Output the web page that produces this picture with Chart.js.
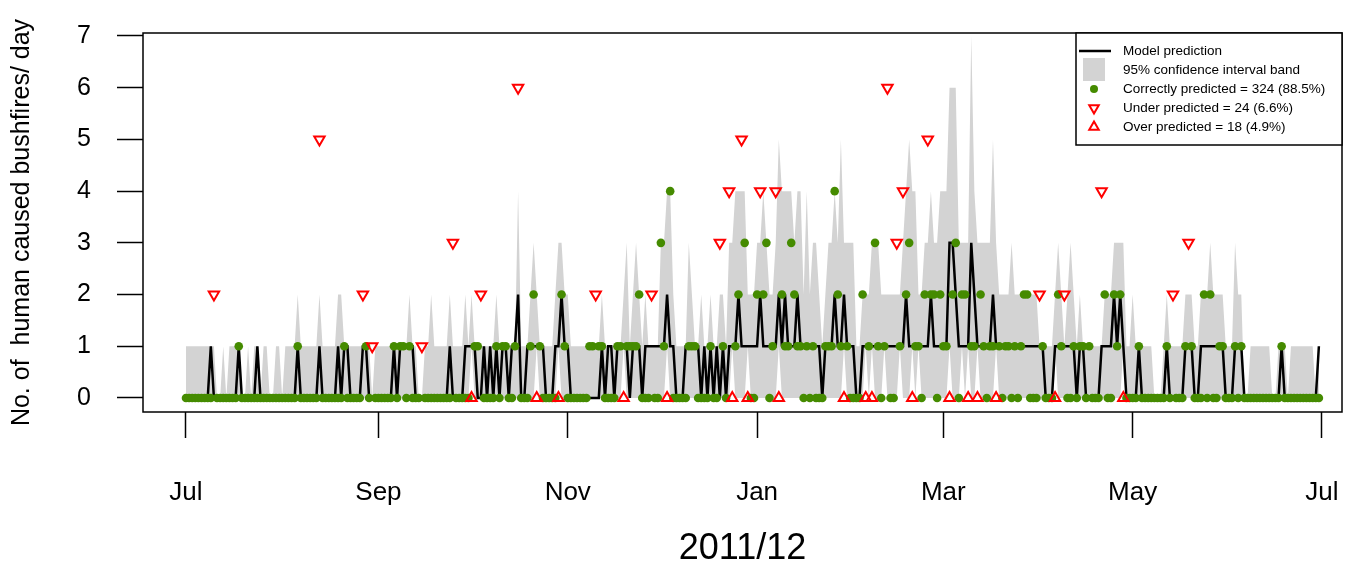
<!DOCTYPE html>
<html>
<head>
<meta charset="utf-8">
<script src="https://cdn.jsdelivr.net/npm/chart.js@4.4.1/dist/chart.umd.min.js"></script>
<style>
  html, body { margin: 0; padding: 0; background: #fff; }
  #wrap { width: 1358px; height: 563px; }
</style>
</head>
<body>
<div id="wrap"><canvas id="chart" width="1358" height="563"></canvas></div>
<script>
// ========= data (one value per day, 1 Jul 2011 .. 30 Jun 2012) =========

// model prediction (black line)
const predicted = [
  /* Jul */ 0,0,0,0,0,0,0,0,1,0,0,0,0,0,0,0,0,1,0,0,0,0,0,1,0,0,0,0,0,0,0,
  /* Aug */ 0,0,0,0,0,1,0,0,0,0,0,0,1,0,0,0,0,0,1,0,1,1,0,0,0,0,1,1,0,0,0,
  /* Sep */ 0,0,0,0,0,1,0,1,1,1,1,1,0,0,0,0,0,0,0,0,0,0,0,1,0,0,0,0,1,1,
  /* Oct */ 1,1,0,0,1,0,1,0,1,0,1,1,0,1,1,2,0,0,1,1,1,1,1,1,0,0,0,1,1,2,1,
  /* Nov */ 1,0,0,0,0,0,0,0,0,0,0,1,0,1,1,0,1,1,1,1,0,1,1,1,0,1,1,1,1,1,
  /* Dec */ 1,1,2,1,1,0,0,0,1,1,1,1,1,0,1,0,1,0,1,0,1,0,1,1,1,2,1,1,1,1,1,
  /* Jan */ 1,2,1,1,1,1,1,2,1,2,1,1,1,2,1,1,1,1,1,1,1,0,1,1,1,2,1,1,2,1,1,
  /* Feb */ 1,0,0,1,1,1,1,1,1,1,1,1,1,1,1,1,1,2,1,1,1,1,1,1,1,2,1,1,1,
  /* Mar */ 1,1,3,3,2,1,1,1,1,3,2,1,1,1,1,1,2,1,1,1,1,1,1,1,1,1,1,1,1,1,1,
  /* Apr */ 1,1,0,0,0,1,1,1,1,1,1,1,0,1,1,0,0,0,0,0,1,1,1,1,2,1,2,1,0,0,
  /* May */ 0,0,1,0,0,0,0,0,0,0,0,1,0,0,0,0,0,1,1,1,0,0,1,1,1,1,1,1,1,1,0,
  /* Jun */ 0,0,1,1,1,0,0,0,0,0,0,0,0,0,0,0,0,1,0,0,0,0,0,0,0,0,0,0,0,1
];

// observed number of human caused bushfires
const observed = [
  /* Jul */ 0,0,0,0,0,0,0,0,0,2,0,0,0,0,0,0,0,1,0,0,0,0,0,0,0,0,0,0,0,0,0,
  /* Aug */ 0,0,0,0,0,1,0,0,0,0,0,0,5,0,0,0,0,0,0,0,1,0,0,0,0,0,2,1,0,1,0,
  /* Sep */ 0,0,0,0,0,1,0,1,1,0,1,0,0,0,1,0,0,0,0,0,0,0,0,0,3,0,0,0,0,0,
  /* Oct */ 0,1,1,2,0,0,0,0,1,0,1,1,0,0,1,6,0,0,0,1,2,0,1,0,0,0,0,0,0,2,1,
  /* Nov */ 0,0,0,0,0,0,0,1,1,2,1,1,0,0,0,0,1,1,0,1,1,1,1,2,0,0,0,2,0,0,
  /* Dec */ 3,1,0,4,0,0,0,0,0,1,1,1,0,0,0,0,1,0,0,3,1,0,4,0,1,2,5,3,0,0,0,
  /* Jan */ 2,4,2,3,0,1,4,0,2,1,1,3,2,1,1,0,1,0,1,0,0,0,1,1,1,4,2,1,0,1,0,
  /* Feb */ 0,0,0,2,0,1,0,3,1,0,1,6,0,0,3,1,4,2,3,0,1,1,0,2,5,2,2,0,2,
  /* Mar */ 1,1,0,2,3,0,2,2,0,1,1,0,2,1,0,1,1,0,1,0,1,1,0,1,0,1,2,2,0,0,0,
  /* Apr */ 2,1,0,0,0,0,2,1,2,0,0,1,0,1,1,0,1,0,0,0,4,2,0,0,2,1,2,0,0,0,
  /* May */ 0,0,1,0,0,0,0,0,0,0,0,1,0,2,0,0,0,1,3,1,0,0,0,2,0,2,0,0,1,1,0,
  /* Jun */ 0,0,1,0,1,0,0,0,0,0,0,0,0,0,0,0,0,1,0,0,0,0,0,0,0,0,0,0,0,0
];

// 95% confidence interval, upper bound
const upper95 = [
  /* Jul */ 1,1,1,1,1,1,1,1,1,1,0,0,1,0,1,1,1,1,0,0,1,0,1,1,0,1,1,0,0,1,1,
  /* Aug */ 0,1,1,1,1,2,1,1,1,1,1,1,2,1,1,1,1,1,2,2,1,1,1,1,1,1,1,1,1,0,1,
  /* Sep */ 1,1,1,1,1,1,1,1,1,1,2,1,1,0,0,1,1,2,1,1,1,1,1,2,1,1,1,1,2,1,
  /* Oct */ 2,1,1,1,1,1,1,1,2,1,1,1,1,1,1,4,1,1,1,2,3,2,1,1,1,1,1,2,3,3,2,
  /* Nov */ 2,1,1,1,1,1,1,1,1,1,1,2,1,1,1,1,1,1,2,3,1,2,3,2,1,2,1,1,1,1,
  /* Dec */ 3,3,4,4,2,1,1,1,1,3,2,1,1,2,1,1,2,1,1,2,2,1,3,3,4,4,4,4,2,2,2,
  /* Jan */ 3,3,4,3,2,2,3,5,4,4,4,4,3,4,4,2,4,2,3,3,2,1,2,3,3,4,3,5,3,3,3,
  /* Feb */ 3,1,1,2,2,2,3,3,3,2,2,2,2,2,2,2,3,4,5,4,4,2,2,3,3,4,3,3,4,
  /* Mar */ 4,4,6,6,6,3,3,3,3,7,4,3,3,3,3,3,5,3,2,2,2,2,3,2,2,2,2,2,2,2,2,
  /* Apr */ 1,1,1,1,1,2,3,2,1,2,3,2,1,2,1,1,1,1,1,1,1,2,2,2,3,3,3,3,1,1,
  /* May */ 2,1,1,1,1,1,1,0,0,0,1,2,1,1,1,1,1,2,2,2,1,1,2,2,2,3,2,2,2,2,1,
  /* Jun */ 1,1,3,2,2,0,0,1,1,1,1,1,1,1,0,0,1,1,1,0,1,1,1,1,1,1,1,1,0,1
];

// 95% confidence interval, lower bound
const lower95 = [
  /* Jul */ 0,0,0,0,0,0,0,0,0,0,0,0,0,0,0,0,0,0,0,0,0,0,0,0,0,0,0,0,0,0,0,
  /* Aug */ 0,0,0,0,0,0,0,0,0,0,0,0,0,0,0,0,0,0,0,0,0,0,0,0,0,0,0,0,0,0,0,
  /* Sep */ 0,0,0,0,0,0,0,0,0,0,0,0,0,0,0,0,0,0,0,0,0,0,0,0,0,0,0,0,0,0,
  /* Oct */ 1,0,0,0,0,0,0,0,0,0,0,0,0,0,0,0,0,0,0,0,0,1,0,0,0,0,0,0,1,0,0,
  /* Nov */ 0,0,0,0,0,0,0,0,0,0,0,0,0,0,0,0,0,0,1,0,0,0,0,0,0,0,0,0,0,0,
  /* Dec */ 0,0,1,0,0,0,0,0,0,0,0,0,0,0,0,0,0,0,0,0,0,0,0,1,0,0,0,0,1,0,0,
  /* Jan */ 0,0,0,0,0,0,0,1,0,0,0,0,0,0,0,0,0,0,0,0,0,0,0,0,0,0,0,0,1,0,0,
  /* Feb */ 0,0,0,0,1,0,1,0,0,0,1,0,0,0,0,1,0,0,0,1,0,1,0,0,0,0,0,0,0,
  /* Mar */ 0,0,1,0,0,0,1,0,1,0,0,1,0,0,0,0,0,1,0,0,0,0,0,0,0,0,0,0,0,0,0,
  /* Apr */ 0,0,0,0,0,1,0,0,0,0,0,0,0,0,0,0,0,0,0,0,0,0,0,0,0,0,0,1,0,0,
  /* May */ 0,0,0,0,0,0,0,0,0,0,0,0,0,0,0,0,0,0,0,0,0,0,0,0,0,0,0,0,0,0,0,
  /* Jun */ 0,0,0,0,0,0,0,0,0,0,0,0,0,0,0,0,0,0,0,0,0,0,0,0,0,0,0,0,0,0
];

// x axis ticks (day index from 1 Jul 2011)
const tickDays = [0, 62, 123, 184, 244, 305, 366];
const tickLabels = ["Jul", "Sep", "Nov", "Jan", "Mar", "May", "Jul"];

const legendLabels = [
  "Model prediction",
  "95% confidence interval band",
  "Correctly predicted = 324 (88.5%)",
  "Under predicted = 24 (6.6%)",
  "Over predicted = 18 (4.9%)"
];

// ========= build points =========
const GREEN = "#458B00";
const RED = "#FF0000";
const BAND = "#D3D3D3";

const pts = arr => arr.map((v, i) => ({ x: i, y: v }));
const correct = [], under = [], over = [];
observed.forEach((v, i) => {
  if (v > upper95[i]) under.push({ x: i, y: v });
  else if (v < lower95[i]) over.push({ x: i, y: v });
  else correct.push({ x: i, y: v });
});

Chart.defaults.font.family = '"Liberation Sans", Arial, Helvetica, sans-serif';
Chart.defaults.color = "#000";

// box around plot + R style legend
const boxPlugin = {
  id: "box",
  afterDraw(chart) {
    const { ctx, chartArea: a } = chart;
    ctx.save();
    ctx.strokeStyle = "#000";
    ctx.lineWidth = 1.5;
    ctx.strokeRect(a.left, a.top, a.right - a.left, a.bottom - a.top);

    // legend
    const L = 1076, T = a.top, R = a.right, B = 145;
    ctx.fillStyle = "#fff";
    ctx.fillRect(L, T, R - L, B - T);
    ctx.strokeRect(L, T, R - L, B - T);
    const rows = [51, 70, 89, 108, 127];
    const sx = 1094;
    ctx.strokeStyle = "#000";
    ctx.lineWidth = 2.5;
    ctx.beginPath();
    ctx.moveTo(1079, rows[0]);
    ctx.lineTo(1111, rows[0]);
    ctx.stroke();
    ctx.fillStyle = BAND;
    ctx.fillRect(1083, rows[1] - 12, 22, 23);
    ctx.fillStyle = GREEN;
    ctx.beginPath();
    ctx.arc(sx, rows[2], 4, 0, Math.PI * 2);
    ctx.fill();
    ctx.strokeStyle = RED;
    ctx.fillStyle = "rgba(0,0,0,0)";
    ctx.lineWidth = 2;
    Chart.helpers.drawPoint(ctx, { pointStyle: "triangle", radius: 5.5, rotation: 180, borderWidth: 2 }, sx, rows[3]);
    Chart.helpers.drawPoint(ctx, { pointStyle: "triangle", radius: 5.5, rotation: 0, borderWidth: 2 }, sx, rows[4]);
    ctx.fillStyle = "#000";
    ctx.font = '13.5px "Liberation Sans", Arial, sans-serif';
    ctx.textBaseline = "middle";
    ctx.textAlign = "left";
    legendLabels.forEach((t, i) => ctx.fillText(t, 1123, rows[i]));
    ctx.restore();
  }
};

new Chart(document.getElementById("chart"), {
  type: "line",
  data: {
    datasets: [
      {
        label: "upper",
        data: pts(upper95),
        borderWidth: 0,
        borderColor: "rgba(0,0,0,0)",
        backgroundColor: BAND,
        pointRadius: 0,
        fill: "+1",
        tension: 0,
        order: 10
      },
      {
        label: "lower",
        data: pts(lower95),
        borderWidth: 0,
        borderColor: "rgba(0,0,0,0)",
        pointRadius: 0,
        fill: false,
        tension: 0,
        order: 11
      },
      {
        label: "Model prediction",
        data: pts(predicted),
        borderColor: "#000",
        borderWidth: 2.5,
        pointRadius: 0,
        fill: false,
        tension: 0,
        order: 5
      },
      {
        label: "Correctly predicted",
        data: correct,
        showLine: false,
        pointStyle: "circle",
        pointRadius: 4.3,
        pointBorderWidth: 0,
        pointBackgroundColor: GREEN,
        order: 3
      },
      {
        label: "Under predicted",
        data: under,
        showLine: false,
        pointStyle: "triangle",
        pointRotation: 180,
        pointRadius: 6,
        pointBorderWidth: 2,
        pointBorderColor: RED,
        pointBackgroundColor: "rgba(0,0,0,0)",
        order: 2
      },
      {
        label: "Over predicted",
        data: over,
        showLine: false,
        pointStyle: "triangle",
        pointRadius: 6,
        pointBorderWidth: 2,
        pointBorderColor: RED,
        pointBackgroundColor: "rgba(0,0,0,0)",
        order: 1
      }
    ]
  },
  options: {
    responsive: false,
    maintainAspectRatio: false,
    animation: false,
    layout: { padding: { top: 33, right: 16, left: 0, bottom: 0 } },
    plugins: {
      legend: { display: false },
      tooltip: { enabled: false }
    },
    scales: {
      x: {
        type: "linear",
        min: -13.85,
        max: 372.45,
        afterBuildTicks: s => { s.ticks = tickDays.map(v => ({ value: v })); },
        afterFit: s => {
          s.height = 151;
          s.paddingLeft = 0;
          s.paddingRight = 0;
        },
        ticks: {
          autoSkip: false,
          maxRotation: 0,
          padding: 39,
          font: { size: 26 },
          callback: v => tickLabels[tickDays.indexOf(v)]
        },
        grid: {
          drawOnChartArea: false,
          drawTicks: true,
          tickLength: 26,
          tickColor: "#000",
          tickWidth: 1.5
        },
        border: { display: false },
        title: {
          display: true,
          text: "2011/12",
          font: { size: 36, lineHeight: 0.8 },
          padding: { top: 0, bottom: 0 }
        }
      },
      y: {
        min: -0.271,
        max: 7.058,
        afterBuildTicks: s => { s.ticks = [0, 1, 2, 3, 4, 5, 6, 7].map(v => ({ value: v })); },
        afterFit: s => {
          s.width = 143;
          s.paddingTop = 0;
          s.paddingBottom = 0;
        },
        ticks: {
          padding: 26,
          font: { size: 25 }
        },
        grid: {
          drawOnChartArea: false,
          drawTicks: true,
          tickLength: 26,
          tickColor: "#000",
          tickWidth: 1.5
        },
        border: { display: false },
        title: {
          display: true,
          text: "No. of  human caused bushfires/ day",
          font: { size: 25 },
          padding: { top: 7, bottom: 0 }
        }
      }
    }
  },
  plugins: [boxPlugin]
});
</script>
</body>
</html>
